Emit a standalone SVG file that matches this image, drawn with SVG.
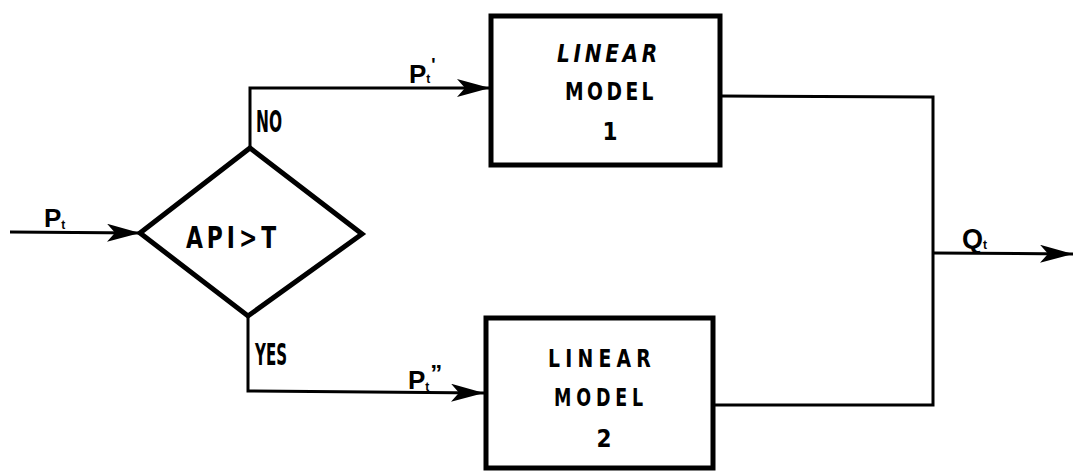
<svg xmlns="http://www.w3.org/2000/svg" width="1082" height="476" viewBox="0 0 1082 476">
<style>
.conn{fill:none;stroke:#000;stroke-width:3;stroke-linejoin:miter}
.shape{fill:#fff;stroke:#000;stroke-width:5}
.lbl{font-family:"Liberation Sans",Arial,sans-serif;font-weight:bold;fill:#000}
.box{font-family:"DejaVu Sans Condensed","Liberation Sans",sans-serif;font-weight:bold;fill:#000;font-size:24px;text-anchor:middle}
.cond{font-family:"DejaVu Sans Condensed","Liberation Sans",sans-serif;font-weight:bold;fill:#000;font-size:31px}
</style>
<defs>
<marker id="arr" markerUnits="userSpaceOnUse" markerWidth="36" markerHeight="20" refX="33" refY="9" orient="auto">
<path d="M0,0 L33,9 L0,18 L8,9 z" fill="#000"/>
</marker>
</defs>
<g id="connectors">
<line class="conn" x1="10" y1="232" x2="140" y2="233" marker-end="url(#arr)"/>
<polyline class="conn" points="250,148 250,88 490,88" marker-end="url(#arr)"/>
<polyline class="conn" points="248,316 248,391 484,393" marker-end="url(#arr)"/>
<polyline class="conn" points="720,96 933,97 933,405 713,405"/>
<line class="conn" x1="933" y1="253" x2="1073" y2="254" marker-end="url(#arr)"/>
</g>
<g id="input-label">
<text class="lbl" x="44" y="227" font-size="26">P<tspan font-size="12" dy="2">t</tspan></text>
</g>
<g id="decision">
<polygon class="shape" points="250,148 362,234 248,316 140,233"/>
<text class="cond" x="186" y="248" font-size="27" textLength="94" lengthAdjust="spacingAndGlyphs" letter-spacing="5">API&gt;T</text>
</g>
<g id="no-label">
<text class="cond" x="256" y="132" textLength="26" lengthAdjust="spacingAndGlyphs">NO</text>
</g>
<g id="yes-label">
<text class="cond" x="255" y="365" textLength="32" lengthAdjust="spacingAndGlyphs">YES</text>
</g>
<g id="p1-label">
<text class="lbl" x="409" y="83" font-size="26">P<tspan font-size="12">t</tspan><tspan font-size="18" dx="1" dy="-12">'</tspan></text>
</g>
<g id="p2-label">
<text class="lbl" x="408" y="389" font-size="26">P<tspan font-size="12" dy="2">t</tspan><tspan font-size="24" dx="1" dy="-9">”</tspan></text>
</g>
<g id="model1">
<rect class="shape" x="491" y="16" width="229" height="149"/>
<text class="box" x="609" y="62" font-style="italic" textLength="104" lengthAdjust="spacingAndGlyphs" letter-spacing="4">LINEAR</text>
<text class="box" x="611" y="100" textLength="92" lengthAdjust="spacingAndGlyphs" letter-spacing="4">MODEL</text>
<text class="box" x="610" y="140">1</text>
</g>
<g id="model2">
<rect class="shape" x="486" y="318" width="227" height="150"/>
<text class="box" x="602" y="367" textLength="108" lengthAdjust="spacingAndGlyphs" letter-spacing="6">LINEAR</text>
<text class="box" x="601" y="406" textLength="94" lengthAdjust="spacingAndGlyphs" letter-spacing="6">MODEL</text>
<text class="box" x="604" y="447">2</text>
</g>
<g id="output-label">
<text class="lbl" x="962" y="248" font-size="27">Q<tspan font-size="12" dy="1">t</tspan></text>
</g>
</svg>
